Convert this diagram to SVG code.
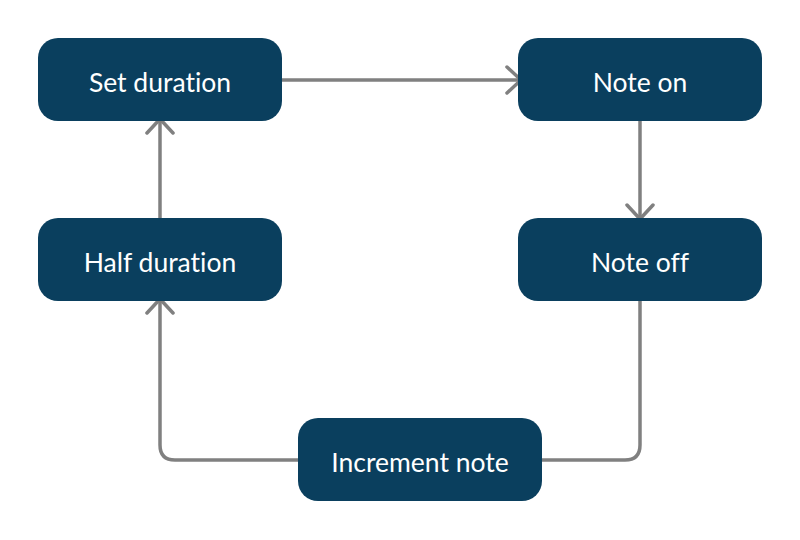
<svg xmlns="http://www.w3.org/2000/svg" width="800" height="540" viewBox="0 0 800 540">
<style>
.node rect{fill:#0a3f5e}
.node text{fill:#ffffff;font-family:Lato,"Liberation Sans",sans-serif;font-size:26.5px;text-anchor:middle;font-variant-ligatures:none}
.edge{fill:none;stroke:#808080;stroke-width:3.5;stroke-linecap:round;stroke-linejoin:round}
</style>
<defs>
<marker id="arr" viewBox="0 0 20 30" refX="16" refY="15" markerWidth="20" markerHeight="30" markerUnits="userSpaceOnUse" orient="auto">
<path d="M2,2 L16,15 L2,28" fill="none" stroke="#808080" stroke-width="3.5" stroke-linecap="round" stroke-linejoin="round"/>
</marker>
</defs>
<rect width="800" height="540" fill="#ffffff"/>
<g id="connectors">
<path class="edge" d="M280,80 H521" marker-end="url(#arr)"/>
<path class="edge" d="M640,121 V219" marker-end="url(#arr)"/>
<path class="edge" d="M640,301 V445 Q640,460 625,460 H540"/>
<path class="edge" d="M300,460 H175 Q160,460 160,445 V299" marker-end="url(#arr)"/>
<path class="edge" d="M160,219 V119" marker-end="url(#arr)"/>
</g>
<g id="set-duration" class="node"><rect x="38" y="38" width="244" height="83" rx="20"/><text x="160" y="92">Set duration</text></g>
<g id="note-on" class="node"><rect x="518" y="38" width="244" height="83" rx="20"/><text x="640" y="92">Note on</text></g>
<g id="half-duration" class="node"><rect x="38" y="218" width="244" height="83" rx="20"/><text x="160" y="272">Half duration</text></g>
<g id="note-off" class="node"><rect x="518" y="218" width="244" height="83" rx="20"/><text x="640" y="272">Note off</text></g>
<g id="increment-note" class="node"><rect x="298" y="418" width="244" height="83" rx="20"/><text x="420" y="472">Increment note</text></g>
</svg>
